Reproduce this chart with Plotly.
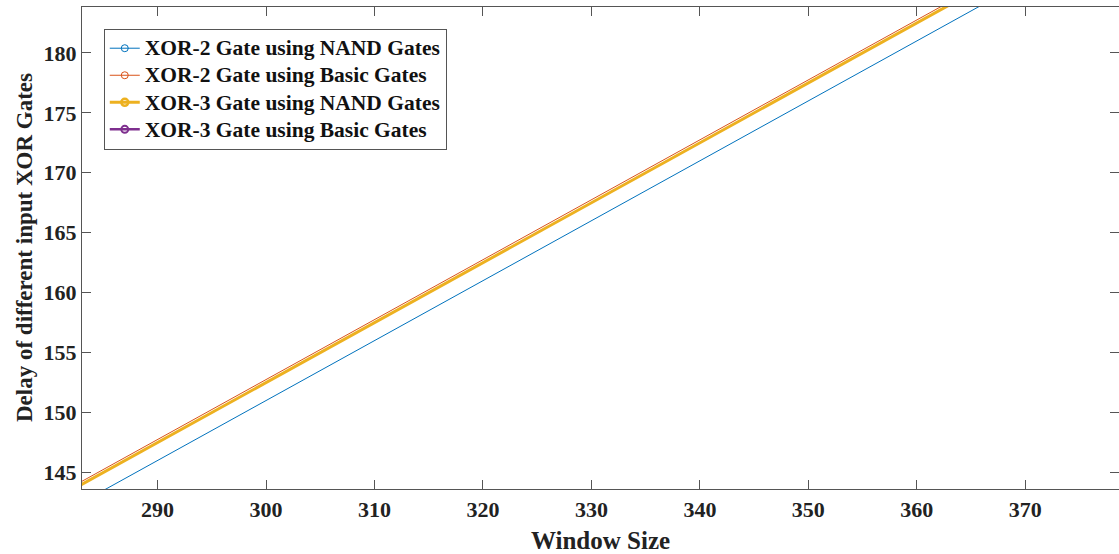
import plotly.graph_objects as go

# Window sizes and gate delays for each XOR implementation
window_size = [64, 128, 256, 512, 1024]
xor2_nand = [33, 65, 129, 257, 513]
xor2_basic = [34.75, 66.75, 130.75, 258.75, 514.75]
xor3_nand = [34.5, 66.5, 130.5, 258.5, 514.5]
xor3_basic = [48, 96, 192, 384, 768]

series_names = [
    "XOR-2 Gate using NAND Gates",
    "XOR-2 Gate using Basic Gates",
    "XOR-3 Gate using NAND Gates",
    "XOR-3 Gate using Basic Gates",
]
series_values = [xor2_nand, xor2_basic, xor3_nand, xor3_basic]
colors = ["#0072BD", "#D95319", "#EDB120", "#7E2F8E"]
widths = [1, 1, 3, 2.5]

FONT = "'Liberation Serif', 'Times New Roman', serif"
AXIS = "#555555"
y_ticks = [145, 150, 155, 160, 165, 170, 175, 180]
x_ticks = [290, 300, 310, 320, 330, 340, 350, 360, 370]

fig = go.Figure()
for name, vals, col, w in zip(series_names, series_values, colors, widths):
    fig.add_trace(go.Scatter(
        x=window_size, y=vals, mode="lines+markers",
        # legend text drawn a bit larger than the row pitch implies
        name=f'<span style="font-size:21.5px">{name}</span>',
        line=dict(color=col, width=w),
        marker=dict(symbol="circle-open", size=7, color=col,
                    line=dict(color=col, width=max(1, w - 0.5))),
    ))

# helper trace so the right-hand y ticks can be drawn without a line
fig.add_trace(go.Scatter(x=[None], y=[None], yaxis="y2", showlegend=False,
                         hoverinfo="skip"))

fig.update_layout(
    width=1119, height=554,
    margin=dict(l=82, r=0, t=7, b=65),
    paper_bgcolor="white", plot_bgcolor="white",
    font=dict(family=FONT, size=22, color="#222222", weight="bold"),
    xaxis=dict(
        range=[283.03, 378.64], tickvals=x_ticks,
        ticks="inside", ticklen=9, tickwidth=1, tickcolor=AXIS,
        showline=True, linecolor=AXIS, linewidth=1.2, mirror="ticks",
        showgrid=False, zeroline=False,
        tickfont=dict(family=FONT, size=22, weight="bold"),
        title=dict(text="Window Size", standoff=10,
                   font=dict(family=FONT, size=25, weight="bold")),
    ),
    yaxis=dict(
        range=[143.62, 183.83], tickvals=y_ticks,
        ticks="inside", ticklen=9, tickwidth=1, tickcolor=AXIS,
        showline=True, linecolor=AXIS, linewidth=1.2, mirror=False,
        showgrid=False, zeroline=False,
        tickfont=dict(family=FONT, size=22, weight="bold"),
    ),
    yaxis2=dict(
        overlaying="y", side="right", matches="y",
        tickvals=y_ticks,
        ticks="inside", ticklen=9, tickwidth=1, tickcolor=AXIS,
        showticklabels=False, showline=False, showgrid=False, zeroline=False,
    ),
    legend=dict(
        x=0.021, y=0.955, xanchor="left", yanchor="top",
        bgcolor="white", bordercolor=AXIS, borderwidth=1,
        font=dict(family=FONT, size=18.5, weight="bold", color="#111111"),
        tracegroupgap=0, itemwidth=30,
    ),
    showlegend=True,
)

# vertical y-axis title, centred on the plot area
fig.add_annotation(
    text="Delay of different input XOR Gates", textangle=-90,
    xref="paper", yref="paper", x=-0.0559, y=0.5,
    xanchor="center", yanchor="middle", showarrow=False,
    font=dict(family=FONT, size=23, weight="bold", color="#222222"),
)

fig.write_html("out.html")
